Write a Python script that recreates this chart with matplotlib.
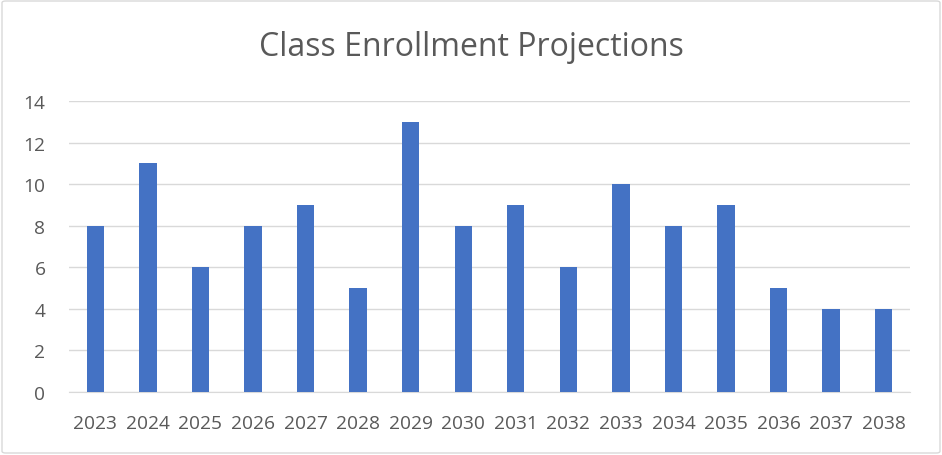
import matplotlib
matplotlib.use("Agg")
import matplotlib.pyplot as plt
from matplotlib.patches import FancyBboxPatch

years = ["2023", "2024", "2025", "2026", "2027", "2028", "2029", "2030",
         "2031", "2032", "2033", "2034", "2035", "2036", "2037", "2038"]
enrollment = [8, 11, 6, 8, 9, 5, 13, 8, 9, 6, 10, 8, 9, 5, 4, 4]
yticks = [0, 2, 4, 6, 8, 10, 12, 14]

plt.rcParams['font.family'] = ['Open Sans', 'DejaVu Sans']
W, H = 942, 456
fig = plt.figure(figsize=(W / 100, H / 100), dpi=100)
fig.patch.set_facecolor('white')
border = FancyBboxPatch((2 / W, 2 / H), 1 - 4 / W, 1 - 4 / H,
                        boxstyle="round,pad=0,rounding_size=0.004",
                        transform=fig.transFigure, facecolor='none',
                        edgecolor='#D9D9D9', linewidth=1, zorder=-1)
fig.patches.append(border)

ax = fig.add_axes([69 / W, (H - 393) / H, (910 - 69) / W, (393 - 102) / H])
ax.set_facecolor('none')
x = range(len(years))
ax.bar(x, enrollment, width=0.33, color='#4472C4', zorder=3)
ax.set_xlim(-0.5, len(years) - 0.5)
ax.set_ylim(0, 14)
ax.set_yticks(yticks)
ax.set_xticks(list(x))
ax.set_xticklabels(years)
ax.yaxis.grid(True, color='#D9D9D9', linewidth=1, zorder=0)
for s in ['top', 'right', 'left']:
    ax.spines[s].set_visible(False)
ax.spines['bottom'].set_color('#D9D9D9')
ax.tick_params(axis='both', length=0, labelsize=13.8, colors='#595959')
ax.tick_params(axis='y', pad=17)
ax.tick_params(axis='x', pad=16)
fig.text(0.5, (H - 47) / H, "Class Enrollment Projections", ha='center',
         va='center', fontsize=23, color='#595959')
fig.savefig("out.png", dpi=100)
